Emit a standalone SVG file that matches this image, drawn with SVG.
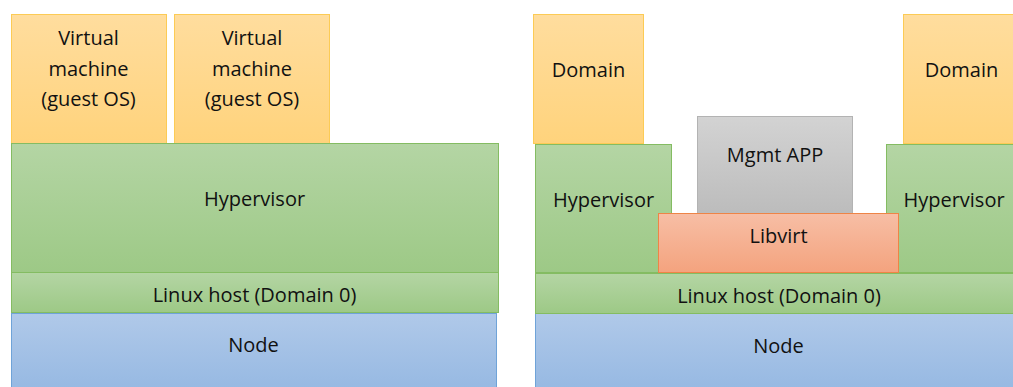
<svg xmlns="http://www.w3.org/2000/svg" width="1013" height="387" viewBox="0 0 1013 387">
<defs>
<linearGradient id="gOr" x1="0" y1="0" x2="0" y2="1"><stop offset="0" stop-color="#FFDD9E"/><stop offset="1" stop-color="#FFD37C"/></linearGradient>
<linearGradient id="gGr" x1="0" y1="0" x2="0" y2="1"><stop offset="0" stop-color="#B4D5A4"/><stop offset="1" stop-color="#9DC986"/></linearGradient>
<linearGradient id="gBl" x1="0" y1="0" x2="0" y2="1"><stop offset="0" stop-color="#B0C9E9"/><stop offset="1" stop-color="#95B8E2"/></linearGradient>
<linearGradient id="gGy" x1="0" y1="0" x2="0" y2="1"><stop offset="0" stop-color="#D3D3D3"/><stop offset="1" stop-color="#BCBCBC"/></linearGradient>
<linearGradient id="gLv" x1="0" y1="0" x2="0" y2="1"><stop offset="0" stop-color="#F7BEA5"/><stop offset="1" stop-color="#F4A37E"/></linearGradient>
</defs>
<style>
text{font-family:"Open Sans","Liberation Sans",sans-serif;font-size:20px;fill:#111111;text-anchor:middle}
.or{fill:url(#gOr);stroke:#FCCB55;stroke-width:1}
.gr{fill:url(#gGr);stroke:#84BC62;stroke-width:1}
.bl{fill:url(#gBl);stroke:#6FA3D8;stroke-width:1}
.gy{fill:url(#gGy);stroke:#B3B3B3;stroke-width:1}
.lv{fill:url(#gLv);stroke:#EE8446;stroke-width:1}
</style>
<rect width="1013" height="387" fill="#ffffff"/>
<g id="vm1"><rect class="or" x="11.5" y="14.5" width="155" height="129"/><text x="88.5" y="44.5">Virtual</text><text x="88.5" y="75.5">machine</text><text x="88.5" y="106">(guest OS)</text></g>
<g id="vm2"><rect class="or" x="174.5" y="14.5" width="155" height="129"/><text x="252" y="44.5">Virtual</text><text x="252" y="75.5">machine</text><text x="252" y="106">(guest OS)</text></g>
<g id="hypervisor-left"><rect class="gr" x="11.5" y="143.5" width="487" height="129"/><text x="254.5" y="205.5">Hypervisor</text></g>
<g id="node-left"><rect class="bl" x="11.5" y="313.5" width="485" height="80"/><text x="253.5" y="351.5">Node</text></g>
<g id="linux-left"><rect class="gr" x="11.5" y="272.5" width="487" height="40"/><text x="254.5" y="301.5">Linux host (Domain 0)</text></g>
<g id="domain-left"><rect class="or" x="533.5" y="14.5" width="110" height="129"/><text x="588.5" y="77">Domain</text></g>
<g id="domain-right"><rect class="or" x="903.5" y="14.5" width="118" height="129"/><text x="961.5" y="76.5">Domain</text></g>
<g id="hypervisor-r1"><rect class="gr" x="535.5" y="144.5" width="136" height="128"/><text x="603.5" y="206.5">Hypervisor</text></g>
<g id="hypervisor-r2"><rect class="gr" x="886.5" y="144.5" width="136" height="128"/><text x="954" y="206.5">Hypervisor</text></g>
<g id="mgmt-app"><rect class="gy" x="697.5" y="116.5" width="155" height="97"/><text x="775" y="161.5">Mgmt APP</text></g>
<g id="libvirt"><rect class="lv" x="658.5" y="213.5" width="240" height="59"/><text x="778.5" y="242.5">Libvirt</text></g>
<g id="node-right"><rect class="bl" x="535.5" y="313.5" width="488" height="80"/><text x="778.5" y="352.5">Node</text></g>
<g id="linux-right"><rect class="gr" x="535.5" y="273.5" width="488" height="40"/><text x="779" y="303">Linux host (Domain 0)</text></g>
<g id="connectors"></g>
</svg>
